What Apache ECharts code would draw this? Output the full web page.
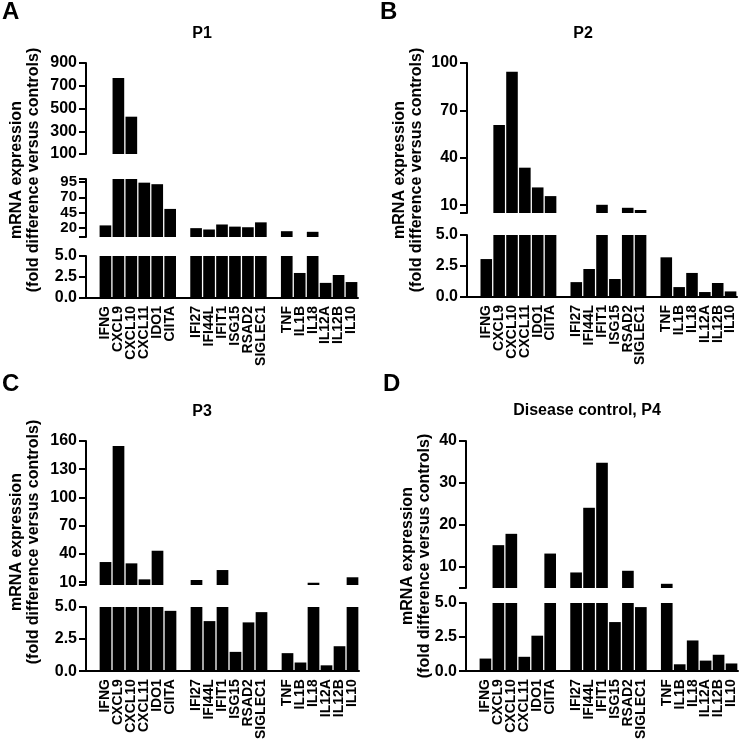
<!DOCTYPE html>
<html><head><meta charset="utf-8">
<script src="https://cdn.jsdelivr.net/npm/echarts@6/dist/echarts.min.js"></script>
<style>html,body{margin:0;padding:0;background:#fff}#c{width:740px;height:742px}</style>
</head><body><div id="c"></div>
<script>
// ---- data ----
const genesIFN = ['IFNG','CXCL9','CXCL10','CXCL11','IDO1','CIITA'];
const genesISG = ['IFI27','IFI44L','IFIT1','ISG15','RSAD2','SIGLEC1'];
const genesInf = ['TNF','IL1B','IL18','IL12A','IL12B','IL10'];

const p1Values = [24, 768, 428, 94, 91.5, 51,   19.5, 17.3, 25.5, 22, 21, 29,   14.5, 2.98, 13.5, 1.8, 2.74, 1.9];
const p2Values = [3.06, 60.7, 94.5, 33.7, 21.2, 15.7,   1.2, 2.26, 10.2, 1.45, 8.3, 6.9,   3.2, 0.8, 1.94, 0.4, 1.13, 0.45];
const p3Values = [31.4, 154.7, 30, 13, 43.4, 4.7,   12.3, 3.9, 22.9, 1.5, 3.8, 4.6,   1.4, 0.67, 9.4, 0.45, 1.94, 15.2];
const p4Values = [0.92, 15.2, 17.9, 1.05, 2.6, 13.2,   8.7, 24.1, 34.8, 3.6, 9.1, 4.7,   6.0, 0.5, 2.25, 0.77, 1.2, 0.56];

const p1TopTicks = [100, 300, 500, 700, 900];
const p1MidTicks = [20, 45, 70, 95];
const p2TopTicks = [10, 40, 70, 100];
const p3TopTicks = [10, 40, 70, 100, 130, 160];
const p4TopTicks = [10, 20, 30, 40];
const lowTicks = [0, 2.5, 5];

const titles = ['P1', 'P2', 'P3', 'Disease control, P4'];
const letters = ['A', 'B', 'C', 'D'];
const yTitle = 'mRNA expression\n(fold difference versus controls)';

// categories with blank separator slots
const categories = ['', ...genesIFN, '', ...genesISG, '', ...genesInf];
function slots(v) { return [null, ...v.slice(0, 6), null, ...v.slice(6, 12), null, ...v.slice(12)]; }

// ---- layout ----
const FONT = 'Arial, "Liberation Sans", sans-serif';
const panels = [
  { values: p1Values, left: 86, width: 272,
    segs: [{ top: 63, height: 91, min: 100, max: 900, labels: p1TopTicks },
           { top: 179, height: 58, min: 5, max: 100, labels: p1MidTicks, fs: 15, lh: 12 },
           { top: 256, height: 42, min: 0, max: 5, labels: lowTicks }],
    title: [202, 34], letter: [2, 12], ytitle: [25.5, 170] },
  { values: p2Values, left: 467, width: 270,
    segs: [{ top: 63, height: 150, min: 5, max: 100, labels: p2TopTicks },
           { top: 235, height: 62, min: 0, max: 5, labels: lowTicks }],
    title: [583, 34], letter: [380, 12], ytitle: [408.5, 170] },
  { values: p3Values, left: 86, width: 273,
    segs: [{ top: 441, height: 144, min: 7, max: 160, labels: p3TopTicks },
           { top: 607, height: 67, min: 0, max: 5, labels: lowTicks }],
    title: [202, 412], letter: [2, 384], ytitle: [25.5, 542] },
  { values: p4Values, left: 466, width: 272,
    segs: [{ top: 441, height: 147, min: 5, max: 40, labels: p4TopTicks },
           { top: 603, height: 71, min: 0, max: 5, labels: lowTicks }],
    title: [587, 411], letter: [383, 384], ytitle: [416, 556] }
];

const option = { animation: false, textStyle: { fontFamily: FONT }, grid: [], xAxis: [], yAxis: [], series: [], graphic: [] };

panels.forEach((p, pi) => {
  p.segs.forEach((s, i) => {
    const idx = option.grid.length;
    const isBottom = i === p.segs.length - 1;
    option.grid.push({ left: p.left, width: p.width, top: s.top, height: s.height });
    option.xAxis.push({
      gridIndex: idx, type: 'category', data: categories, show: isBottom,
      axisLine: { lineStyle: { color: '#000', width: 2 } },
      axisTick: { alignWithLabel: true, interval: 0, length: 6, lineStyle: { color: '#000', width: 2 } },
      axisLabel: { interval: 0, rotate: 90, fontSize: 14, fontWeight: 'bold', color: '#000', margin: 8, fontFamily: FONT }
    });
    const ticks = isBottom ? s.labels : [s.min, ...s.labels, s.max];
    option.yAxis.push({
      gridIndex: idx, type: 'value', min: s.min, max: s.max,
      splitLine: { show: false },
      axisLine: { show: true, lineStyle: { color: '#000', width: 2 } },
      axisTick: { show: true, length: 7, lineStyle: { color: '#000', width: 2 }, customValues: ticks },
      axisLabel: { customValues: s.labels, formatter: isBottom ? (v => Number(v).toFixed(1)) : (v => String(v)),
                   fontSize: s.fs || 16, lineHeight: s.lh || 16, fontWeight: 'bold', color: '#000', margin: 9,
                   fontFamily: FONT, hideOverlap: false }
    });
    option.series.push({
      type: 'bar', xAxisIndex: idx, yAxisIndex: idx, data: slots(p.values),
      barCategoryGap: '10%', itemStyle: { color: '#000' }, clip: true, silent: true
    });
  });
  option.graphic.push({ type: 'text', x: p.letter[0], y: p.letter[1],
    style: { text: letters[pi], font: 'bold 24px ' + FONT, fill: '#000', textAlign: 'left', textVerticalAlign: 'middle' } });
  option.graphic.push({ type: 'text', x: p.title[0], y: p.title[1],
    style: { text: titles[pi], font: 'bold 16px ' + FONT, fill: '#000', textAlign: 'center', textVerticalAlign: 'middle' } });
  option.graphic.push({ type: 'text', x: p.ytitle[0], y: p.ytitle[1], rotation: Math.PI / 2,
    style: { text: yTitle, font: 'bold 16px ' + FONT, lineHeight: 17, fill: '#000', textAlign: 'center', textVerticalAlign: 'middle' } });
});

const chart = echarts.init(document.getElementById('c'), null, { renderer: 'canvas' });
chart.setOption(option);
</script>
</body></html>
